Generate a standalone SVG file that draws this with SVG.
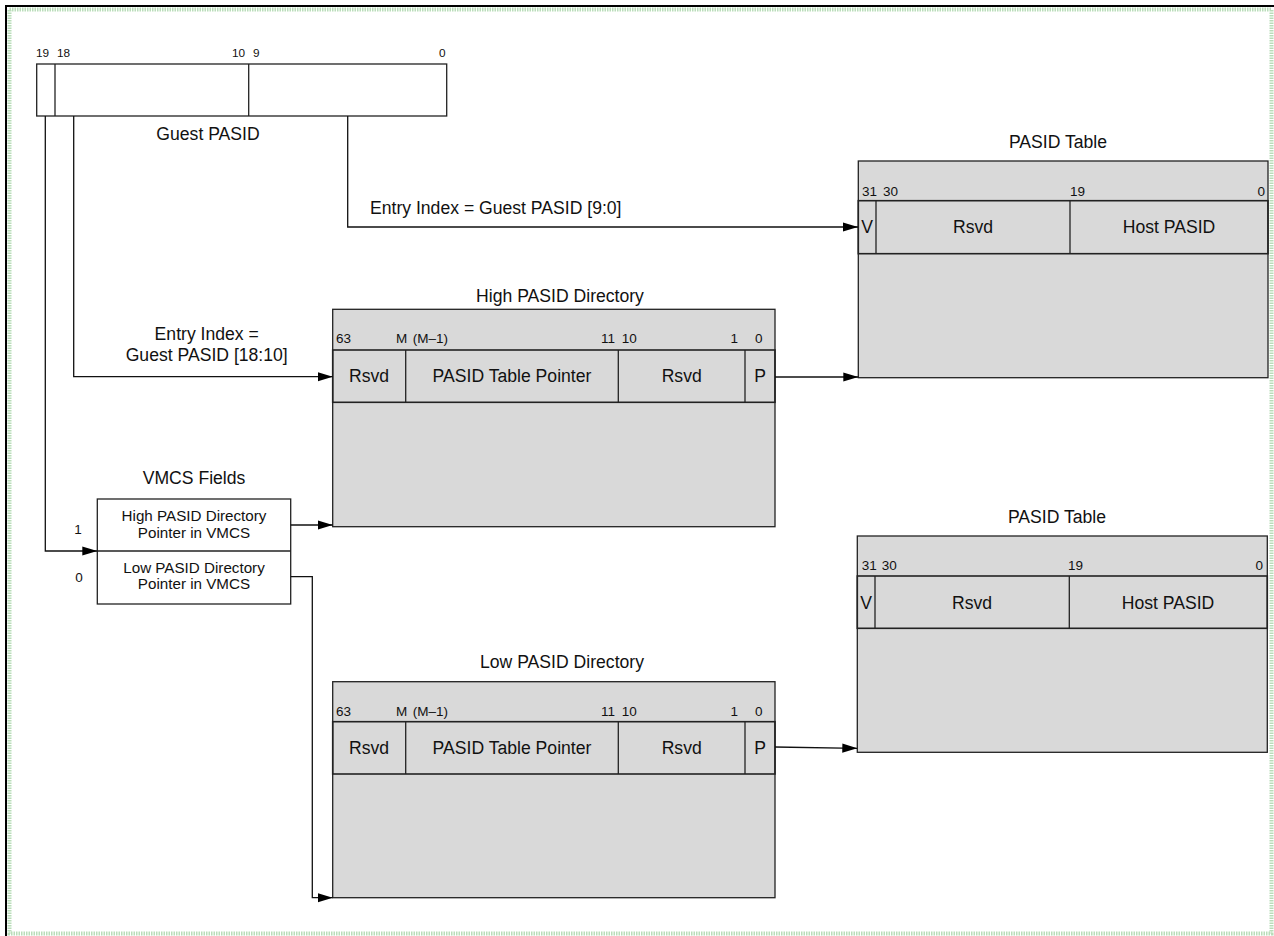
<svg xmlns="http://www.w3.org/2000/svg" width="1274" height="936" viewBox="0 0 1274 936">
<defs>
<style>
text{font-family:"Liberation Sans",Arial,sans-serif;fill:#111}
.t{font-size:17.6px}
.m{font-size:17.6px;text-anchor:middle}
.v{font-size:15.2px;text-anchor:middle}
.b{font-size:13.5px}
.bs{font-size:11.8px}
.box{fill:#fff;stroke:#222;stroke-width:1.3}
.tab{fill:#d9d9d9;stroke:#222;stroke-width:1.3}
.row{fill:none;stroke:#222;stroke-width:1.6}
.ln{fill:none;stroke:#222;stroke-width:1.3}
.c{fill:none;stroke:#111;stroke-width:1.3}
</style>
<marker id="ah" markerUnits="userSpaceOnUse" markerWidth="16" markerHeight="11" refX="15" refY="5" orient="auto">
<path d="M0,0.4 L15,5 L0,9.6 Z" fill="#000"/>
</marker>
</defs>
<rect x="0" y="0" width="1274" height="936" fill="#fff"/>
<g id="frame">
<rect x="9.5" y="9.5" width="1262" height="924" fill="none" stroke="#b9ddb9" stroke-width="4" stroke-dasharray="1.5 1"/>
<line x1="6" y1="5" x2="6" y2="936" stroke="#000" stroke-width="2"/>
<line x1="5" y1="6" x2="1274" y2="6" stroke="#000" stroke-width="2"/>
</g>
<g id="guest-pasid">
<rect class="box" x="36.7" y="64" width="410" height="52"/>
<line class="ln" x1="55" y1="64" x2="55" y2="116"/>
<line class="ln" x1="248.7" y1="64" x2="248.7" y2="116"/>
<text class="bs" x="36" y="57">19</text>
<text class="bs" x="57" y="57">18</text>
<text class="bs" x="232" y="57">10</text>
<text class="bs" x="253" y="57">9</text>
<text class="bs" x="439" y="57">0</text>
<text class="m" x="208" y="140">Guest PASID</text>
</g>
<g id="pasid-table-top">
<text class="m" x="1058" y="148">PASID Table</text>
<rect class="tab" x="858.3" y="161" width="409.7" height="216.7"/>
<rect class="row" x="858.3" y="200.7" width="409.7" height="53"/>
<line class="ln" x1="876" y1="200.7" x2="876" y2="253.7"/>
<line class="ln" x1="1070" y1="200.7" x2="1070" y2="253.7"/>
<text class="b" x="862" y="196">31</text>
<text class="b" x="883" y="196">30</text>
<text class="b" x="1070" y="196">19</text>
<text class="b" x="1265" y="196" text-anchor="end">0</text>
<text class="m" x="867" y="233">V</text>
<text class="m" x="973" y="233">Rsvd</text>
<text class="m" x="1169" y="233">Host PASID</text>
</g>
<g id="high-pasid-dir">
<text class="m" x="560" y="301.7">High PASID Directory</text>
<rect class="tab" x="332.7" y="309.3" width="442.3" height="217.4"/>
<rect class="row" x="332.7" y="350" width="442.3" height="52.3"/>
<line class="ln" x1="405.7" y1="350" x2="405.7" y2="402.3"/>
<line class="ln" x1="618.3" y1="350" x2="618.3" y2="402.3"/>
<line class="ln" x1="745" y1="350" x2="745" y2="402.3"/>
<text class="b" x="336" y="343">63</text>
<text class="b" x="396" y="343">M</text>
<text class="b" x="412.7" y="343">(M–1)</text>
<text class="b" x="615" y="343" text-anchor="end">11</text>
<text class="b" x="621.7" y="343">10</text>
<text class="b" x="738" y="343" text-anchor="end">1</text>
<text class="b" x="755" y="343">0</text>
<text class="m" x="369" y="382">Rsvd</text>
<text class="m" x="512" y="382">PASID Table Pointer</text>
<text class="m" x="681.7" y="382">Rsvd</text>
<text class="m" x="760" y="382">P</text>
</g>
<g id="vmcs-fields">
<text class="m" x="194" y="484.3">VMCS Fields</text>
<rect class="box" x="97.3" y="499" width="193.4" height="105"/>
<line class="ln" x1="97.3" y1="551" x2="290.7" y2="551"/>
<text class="v" x="194" y="520.7">High PASID Directory</text>
<text class="v" x="194" y="537.7">Pointer in VMCS</text>
<text class="v" x="194" y="572.7">Low PASID Directory</text>
<text class="v" x="194" y="589.3">Pointer in VMCS</text>
<text class="b" x="78" y="534" text-anchor="middle">1</text>
<text class="b" x="79" y="581.7" text-anchor="middle">0</text>
</g>
<g id="pasid-table-bottom">
<text class="m" x="1057" y="523">PASID Table</text>
<rect class="tab" x="857.3" y="536" width="410" height="216.3"/>
<rect class="row" x="857.3" y="576" width="410" height="52.3"/>
<line class="ln" x1="875" y1="576" x2="875" y2="628.3"/>
<line class="ln" x1="1069.3" y1="576" x2="1069.3" y2="628.3"/>
<text class="b" x="861.7" y="570">31</text>
<text class="b" x="881.7" y="570">30</text>
<text class="b" x="1068" y="570">19</text>
<text class="b" x="1263" y="570" text-anchor="end">0</text>
<text class="m" x="866" y="609">V</text>
<text class="m" x="972" y="609">Rsvd</text>
<text class="m" x="1168" y="609">Host PASID</text>
</g>
<g id="low-pasid-dir">
<text class="m" x="562" y="668.3">Low PASID Directory</text>
<rect class="tab" x="332.7" y="681.7" width="442.3" height="216"/>
<rect class="row" x="332.7" y="721.7" width="442.3" height="52.3"/>
<line class="ln" x1="405.7" y1="721.7" x2="405.7" y2="774"/>
<line class="ln" x1="618.3" y1="721.7" x2="618.3" y2="774"/>
<line class="ln" x1="745" y1="721.7" x2="745" y2="774"/>
<text class="b" x="336" y="715.7">63</text>
<text class="b" x="396" y="715.7">M</text>
<text class="b" x="412.7" y="715.7">(M–1)</text>
<text class="b" x="615" y="715.7" text-anchor="end">11</text>
<text class="b" x="621.7" y="715.7">10</text>
<text class="b" x="738" y="715.7" text-anchor="end">1</text>
<text class="b" x="755" y="715.7">0</text>
<text class="m" x="369" y="753.5">Rsvd</text>
<text class="m" x="512" y="753.5">PASID Table Pointer</text>
<text class="m" x="681.7" y="753.5">Rsvd</text>
<text class="m" x="760" y="753.5">P</text>
</g>
<g id="connectors">
<path class="c" d="M347.7,116 V227 H858" marker-end="url(#ah)"/>
<path class="c" d="M73.7,116 V376.7 H332.7" marker-end="url(#ah)"/>
<path class="c" d="M45.3,116 V551 H97.3" marker-end="url(#ah)"/>
<path class="c" d="M290.7,525 H332.7" marker-end="url(#ah)"/>
<path class="c" d="M290.7,576.7 H312.3 V897.7 H332.7" marker-end="url(#ah)"/>
<path class="c" d="M775,377 H858.3" marker-end="url(#ah)"/>
<path class="c" d="M775,747 L857.3,748.3" marker-end="url(#ah)"/>
<text class="t" x="370" y="214">Entry Index = Guest PASID [9:0]</text>
<text class="m" x="206.7" y="340">Entry Index =</text>
<text class="m" x="206.7" y="361">Guest PASID [18:10]</text>
</g>
</svg>
